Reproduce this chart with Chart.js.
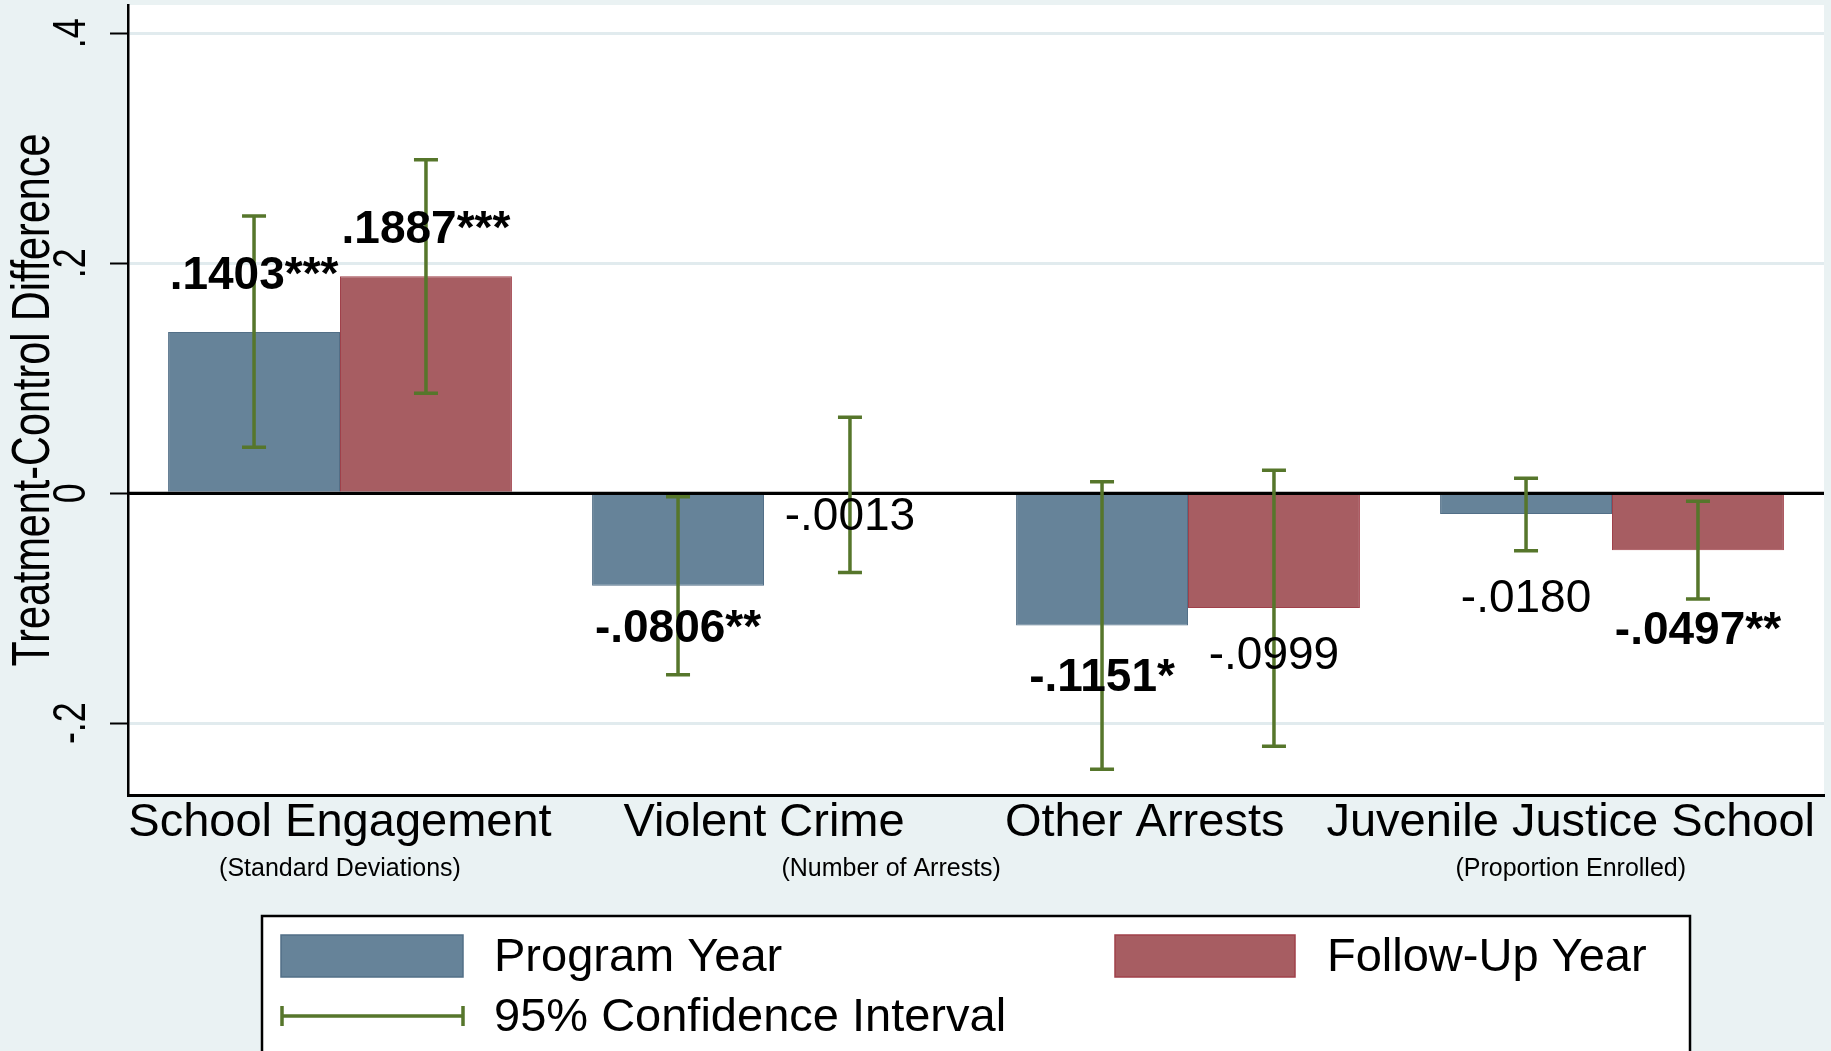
<!DOCTYPE html>
<html>
<head>
<meta charset="utf-8">
<script src="https://cdn.jsdelivr.net/npm/chart.js@4.4.1/dist/chart.umd.min.js"></script>
<style>
  html, body { margin: 0; padding: 0; background: #eaf2f3; }
  #wrap { width: 1831px; height: 1051px; position: relative; }
</style>
</head>
<body>
<div id="wrap"><canvas id="chart"></canvas></div>
<script>
// values
var categories = ["School Engagement", "Violent Crime", "Other Arrests", "Juvenile Justice School"];
var programYear = [0.1403, -0.0806, -0.1151, -0.0180];
var followUpYear = [0.1887, -0.0013, -0.0999, -0.0497];
var programStars = ["***", "**", "*", ""];
var followUpStars = ["***", "", "", "**"];
var programLo = [0.040, -0.158, -0.240, -0.050];
var programHi = [0.241, -0.003, 0.010, 0.013];
var followUpLo = [0.087, -0.069, -0.220, -0.092];
var followUpHi = [0.290, 0.066, 0.020, -0.007];
var yTicks = [-0.2, 0, 0.2, 0.4];
var unitNotes = ["(Standard Deviations)", "(Number of Arrests)", "(Proportion Enrolled)"];

// where the annotations sit (value labels in y units, notes in category units)
var programLabelAt = [0.189, -0.118, -0.161, -0.092];
var followUpLabelAt = [0.229, -0.021, -0.142, -0.120];
var noteAt = [0, 1.3, 3];

var bgColor = '#eaf2f3';
var gridColor = '#e1ebee';
var blue = '#668399', blueEdge = '#526f87';
var red = '#a75d62', redEdge = '#a0404a';
var green = '#56762b';
var FONT = '"Liberation Sans", Arial, Helvetica, sans-serif';

var ci = [[programLo, programHi], [followUpLo, followUpHi]];
var stars = [programStars, followUpStars];
var labelAt = [programLabelAt, followUpLabelAt];

function fmt(v) {
  if (v === 0) return '0';
  var s = Math.abs(v).toFixed(4).replace(/^0/, '');
  return (v < 0 ? '-' : '') + s;
}
function fmtTick(v) {
  if (Math.abs(v) < 1e-9) return '0';
  return (v < 0 ? '-' : '') + String(Math.abs(v)).replace(/^0/, '');
}

// rotated text, squeezed along its length like the original
function vText(ctx, text, x, y, size, squeeze) {
  ctx.save();
  ctx.translate(x, y);
  ctx.rotate(-Math.PI / 2);
  ctx.scale(squeeze, 1);
  ctx.font = size + 'px ' + FONT;
  ctx.textAlign = 'center';
  ctx.textBaseline = 'middle';
  ctx.fillStyle = '#000';
  ctx.fillText(text, 0, 0);
  ctx.restore();
}

function errBar(ctx, x, y1, y2, cap) {
  ctx.beginPath();
  ctx.moveTo(x, y1); ctx.lineTo(x, y2);
  ctx.moveTo(x - cap, y1); ctx.lineTo(x + cap, y1);
  ctx.moveTo(x - cap, y2); ctx.lineTo(x + cap, y2);
  ctx.stroke();
}

var stataLook = {
  id: 'stataLook',
  beforeDraw: function(chart) {
    var ctx = chart.ctx, a = chart.chartArea;
    ctx.save();
    ctx.fillStyle = bgColor;
    ctx.fillRect(0, 0, chart.width, chart.height);
    ctx.fillStyle = '#fff';
    ctx.fillRect(a.left, a.top, a.right - a.left, a.bottom - a.top);
    ctx.restore();
  },
  afterDatasetsDraw: function(chart) {
    var ctx = chart.ctx, a = chart.chartArea, ys = chart.scales.y;
    ctx.save();
    // zero line
    var y0 = ys.getPixelForValue(0);
    ctx.strokeStyle = '#000';
    ctx.lineWidth = 3;
    ctx.beginPath(); ctx.moveTo(a.left, y0); ctx.lineTo(a.right, y0); ctx.stroke();

    // confidence intervals
    ctx.strokeStyle = green;
    ctx.lineWidth = 3.5;
    for (var d = 0; d < 2; d++) {
      var meta = chart.getDatasetMeta(d);
      meta.data.forEach(function(bar, i) {
        errBar(ctx, bar.x, ys.getPixelForValue(ci[d][1][i]), ys.getPixelForValue(ci[d][0][i]), 12);
      });
    }

    // value labels
    ctx.fillStyle = '#000';
    ctx.textAlign = 'center';
    ctx.textBaseline = 'middle';
    for (var d2 = 0; d2 < 2; d2++) {
      var meta2 = chart.getDatasetMeta(d2);
      var vals = chart.data.datasets[d2].data;
      meta2.data.forEach(function(bar, i) {
        var st = stars[d2][i];
        ctx.font = (st ? 'bold ' : '') + '46px ' + FONT;
        ctx.fillText(fmt(vals[i]) + st, bar.x, ys.getPixelForValue(labelAt[d2][i]));
      });
    }
    ctx.restore();
  },
  afterDraw: function(chart) {
    var ctx = chart.ctx, a = chart.chartArea, ys = chart.scales.y, xs = chart.scales.x;
    ctx.save();

    // y tick labels and title
    ys.ticks.forEach(function(t) {
      vText(ctx, fmtTick(t.value), 72, ys.getPixelForValue(t.value), 46, 0.78);
    });
    vText(ctx, 'Treatment-Control Difference', 34, (a.top + a.bottom) / 2, 53, 0.78);

    // category labels: centred on the group, pushed left so they stay inside and don't collide
    ctx.fillStyle = '#000';
    ctx.textAlign = 'center';
    ctx.textBaseline = 'middle';
    ctx.font = '47px ' + FONT;
    var centers = categories.map(function(c, i) { return xs.getPixelForValue(i); });
    var widths = categories.map(function(c) { return ctx.measureText(c).width; });
    var limit = chart.width - 16;
    for (var k = categories.length - 1; k >= 0; k--) {
      if (centers[k] + widths[k] / 2 > limit) centers[k] = limit - widths[k] / 2;
      limit = centers[k] - widths[k] / 2 - 42;
    }
    categories.forEach(function(c, i) { ctx.fillText(c, centers[i], 823); });

    ctx.font = '25px ' + FONT;
    unitNotes.forEach(function(n, i) {
      var at = noteAt[i];
      var nx = (at % 1 === 0) ? centers[at] : xs.getPixelForValue(at);
      ctx.fillText(n, nx, 869);
    });

    // legend box
    var lx = 262, ly = 916, lr = 1690;
    ctx.fillStyle = '#fff';
    ctx.fillRect(lx, ly, lr - lx, chart.height - ly + 10);
    ctx.strokeStyle = '#000';
    ctx.lineWidth = 2.5;
    ctx.strokeRect(lx, ly, lr - lx, chart.height - ly + 10);

    var ds = chart.data.datasets;
    ctx.lineWidth = 1.5;
    ctx.fillStyle = ds[0].backgroundColor; ctx.strokeStyle = ds[0].borderColor;
    ctx.fillRect(281, 935, 182, 42); ctx.strokeRect(281, 935, 182, 42);
    ctx.fillStyle = ds[1].backgroundColor; ctx.strokeStyle = ds[1].borderColor;
    ctx.fillRect(1115, 935, 180, 42); ctx.strokeRect(1115, 935, 180, 42);

    ctx.strokeStyle = green;
    ctx.lineWidth = 3.5;
    ctx.beginPath();
    ctx.moveTo(282, 1016); ctx.lineTo(463, 1016);
    ctx.moveTo(282, 1006); ctx.lineTo(282, 1026);
    ctx.moveTo(463, 1006); ctx.lineTo(463, 1026);
    ctx.stroke();

    ctx.fillStyle = '#000';
    ctx.textAlign = 'left';
    ctx.font = '47px ' + FONT;
    ctx.fillText(ds[0].label, 494, 958);
    ctx.fillText(ds[1].label, 1327, 958);
    ctx.fillText('95% Confidence Interval', 494, 1018);
    ctx.restore();
  }
};

var ctx = document.getElementById('chart').getContext('2d');
new Chart(ctx, {
  type: 'bar',
  data: {
    labels: categories,
    datasets: [
      {
        label: 'Program Year',
        data: programYear,
        backgroundColor: blue,
        borderColor: blueEdge,
        borderWidth: 1
      }, {
        label: 'Follow-Up Year',
        data: followUpYear,
        backgroundColor: red,
        borderColor: redEdge,
        borderWidth: 1
      }
    ]
  },
  options: {
    responsive: true,
    maintainAspectRatio: false,
    animation: false,
    layout: { padding: { left: 110, right: 7, top: 5, bottom: 256 } },
    datasets: { bar: { categoryPercentage: 0.811, barPercentage: 1.0 } },
    plugins: { legend: { display: false }, tooltip: { enabled: false } },
    scales: {
      x: {
        grid: { display: false, drawTicks: false },
        ticks: { display: false },
        border: { display: true, color: '#000', width: 3 }
      },
      y: {
        min: -0.2625,
        max: 0.4246,
        afterBuildTicks: function(s) { s.ticks = yTicks.map(function(v) { return { value: v }; }); },
        ticks: { display: false },
        grid: {
          color: function(c) { return c.tick && c.tick.value === 0 ? '#000' : gridColor; },
          lineWidth: 3,
          tickLength: 18,
          tickColor: '#000',
          tickWidth: 2
        },
        border: { color: '#000', width: 2.5 }
      }
    }
  },
  plugins: [stataLook]
});
</script>
</body>
</html>
